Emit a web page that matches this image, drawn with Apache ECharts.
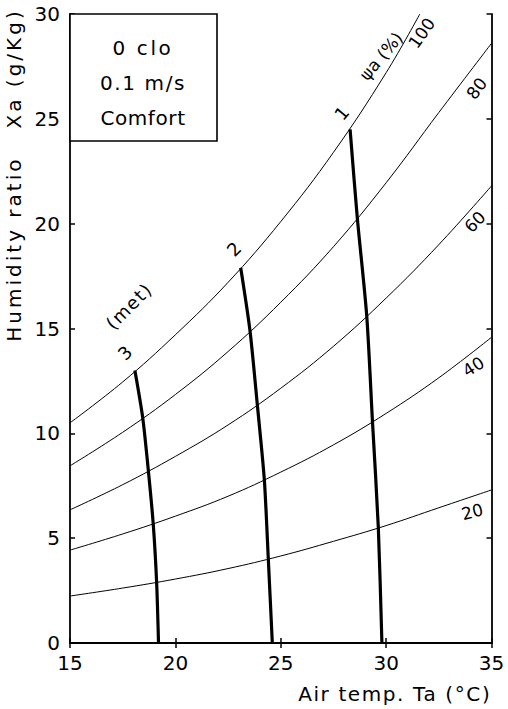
<!DOCTYPE html>
<html><head><meta charset="utf-8">
<script src="https://cdn.jsdelivr.net/npm/echarts@6/dist/echarts.min.js"></script>
<style>html,body{margin:0;padding:0;background:#fff}#c{width:508px;height:709px}</style>
</head><body><div id="c"></div>
<script>
// Air temperature (°C) sample points for relative humidity curves
const temps = [15, 17.5, 20, 22.5, 25, 27.5, 30, 32.5, 35];
const temps100 = [15, 17.5, 20, 22.5, 25, 27.5, 30, 31.6];
// Humidity ratio Xa (g/Kg) per relative humidity curve
const rh100 = [10.5, 12.45, 14.7, 17.2, 20.1, 23.4, 27.2, 30.0];
const rh80 = [8.45, 10.05, 11.85, 13.9, 16.25, 18.9, 21.95, 25.3, 28.6];
const rh60 = [6.35, 7.55, 8.9, 10.4, 12.15, 14.15, 16.45, 19.0, 21.8];
const rh40 = [4.43, 5.2, 6.05, 7.0, 8.15, 9.45, 10.95, 12.65, 14.58];
const rh20 = [2.24, 2.62, 3.05, 3.55, 4.15, 4.85, 5.6, 6.45, 7.3];
// Comfort lines for metabolic rates 1, 2, 3 met
const met1T = [28.29, 28.63, 29.08, 29.35, 29.63, 29.8];
const met1X = [24.5, 20.3, 15.6, 10.6, 5.5, 0];
const met2T = [23.1, 23.54, 23.89, 24.22, 24.41, 24.6];
const met2X = [17.9, 14.9, 11.35, 7.8, 4.0, 0];
const met3T = [18.08, 18.45, 18.72, 18.95, 19.11, 19.2];
const met3X = [13.0, 10.75, 8.2, 5.67, 2.9, 0];
// Tick labels
const xTicks = [15, 20, 25, 30, 35];
const yTicks = [0, 5, 10, 15, 20, 25, 30];
// Curve labels: [text, T, Xa, rotation deg, font size]
const curveLabels = [
  ['100', 31.69, 29.09, 55, 17],
  ['ψa (%)', 29.76, 27.99, 50, 17],
  ['80', 34.30, 26.45, 53, 17],
  ['60', 34.22, 20.09, 46, 17],
  ['40', 34.14, 13.18, 33, 17],
  ['20', 34.09, 6.26, 14, 17],
  ['1', 27.89, 25.27, 50, 18],
  ['2', 22.78, 18.79, 45, 18],
  ['3', 17.61, 13.84, 45, 18],
  ['(met)', 17.80, 16.07, 45, 18]
];
const boxLines = ['0 clo', '0.1 m/s', 'Comfort'];
const xName = 'Air temp. Ta (°C)';
const yName = 'Humidity ratio   Xa (g/Kg)';

const FONT = 'DejaVu Sans';
const zip = (a, b) => a.map((v, i) => [v, b[i]]);
const thin = (name, xs, ys) => ({
  name, type: 'line', data: zip(xs, ys), smooth: 0.4, symbol: 'none', silent: true,
  lineStyle: { color: '#000', width: 1 }, z: 3
});
const thick = (name, xs, ys) => ({
  name, type: 'line', data: zip(xs, ys), smooth: 0.25, symbol: 'none', silent: true,
  lineStyle: { color: '#000', width: 3.2 }, z: 4
});

const chart = echarts.init(document.getElementById('c'), null, { renderer: 'svg' });
const axisLine = { lineStyle: { color: '#000', width: 1.8 } };
const tick = { inside: true, length: 5, lineStyle: { color: '#000', width: 1.5 } };
const baseX = { type: 'value', min: xTicks[0], max: xTicks[xTicks.length - 1], interval: 5,
  splitLine: { show: false }, axisLine, axisTick: tick };
const baseY = { type: 'value', min: yTicks[0], max: yTicks[yTicks.length - 1], interval: 5,
  splitLine: { show: false }, axisLine, axisTick: tick };

chart.setOption({
  animation: false,
  backgroundColor: '#fff',
  grid: { left: 70, right: 16.5, top: 14, bottom: 66, containLabel: false, outerBoundsMode: 'none' },
  xAxis: [
    Object.assign({}, baseX, {
      position: 'bottom',
      axisLabel: { color: '#000', fontFamily: FONT, fontSize: 20, margin: 10 },
      name: xName, nameLocation: 'middle', nameGap: 41,
      nameTextStyle: { color: '#000', fontFamily: FONT, fontSize: 20, padding: [0, 0, 0, 228] }
    }),
    Object.assign({}, baseX, { position: 'top', axisLabel: { show: false } })
  ],
  yAxis: [
    Object.assign({}, baseY, {
      position: 'left',
      axisLabel: { color: '#000', fontFamily: FONT, fontSize: 20, margin: 10 },
      name: yName, nameLocation: 'middle', nameGap: 38, nameRotate: 90,
      nameTextStyle: { color: '#000', fontFamily: FONT, fontSize: 20, padding: [0, 0, 0, 307] }
    }),
    Object.assign({}, baseY, { position: 'right', axisLabel: { show: false } })
  ],
  series: [
    thin('100%', temps100, rh100),
    thin('80%', temps, rh80),
    thin('60%', temps, rh60),
    thin('40%', temps, rh40),
    thin('20%', temps, rh20),
    thick('1 met', met1T, met1X),
    thick('2 met', met2T, met2X),
    thick('3 met', met3T, met3X)
  ]
});

const p0 = chart.convertToPixel({ gridIndex: 0 }, [xTicks[0], yTicks[yTicks.length - 1]]);
const graphics = curveLabels.map(([t, x, y, r, fs]) => {
  const p = chart.convertToPixel({ gridIndex: 0 }, [x, y]);
  return { type: 'text', x: p[0], y: p[1], rotation: r * Math.PI / 180, z: 10,
    style: { text: t, fontFamily: FONT, fontSize: fs, fill: '#000', align: 'center', verticalAlign: 'middle' } };
});
graphics.push({ type: 'rect', shape: { x: p0[0], y: p0[1], width: 147, height: 127 }, z: 9,
  style: { fill: '#fff', stroke: '#000', lineWidth: 1.6 } });
boxLines.forEach((t, i) => {
  graphics.push({ type: 'text', x: p0[0] + 73, y: p0[1] + 34 + i * 35, z: 10,
    style: { text: t, fontFamily: FONT, fontSize: 20, fill: '#000', align: 'center', verticalAlign: 'middle' } });
});
chart.setOption({ graphic: graphics });

// letter spacing of the original lettering (SVG text only)
const spacing = {};
spacing[yName] = 3; spacing[xName] = 1.6;
spacing[boxLines[0]] = 2.6; spacing[boxLines[1]] = 1.6; spacing[boxLines[2]] = 0.6;
spacing['(met)'] = 1.5;
function applySpacing() {
  document.querySelectorAll('#c svg text').forEach(el => {
    const s = spacing[el.textContent];
    if (s != null) el.style.letterSpacing = s + 'px';
  });
}
applySpacing();
chart.on('finished', applySpacing);
setTimeout(applySpacing, 50);
</script></body></html>
